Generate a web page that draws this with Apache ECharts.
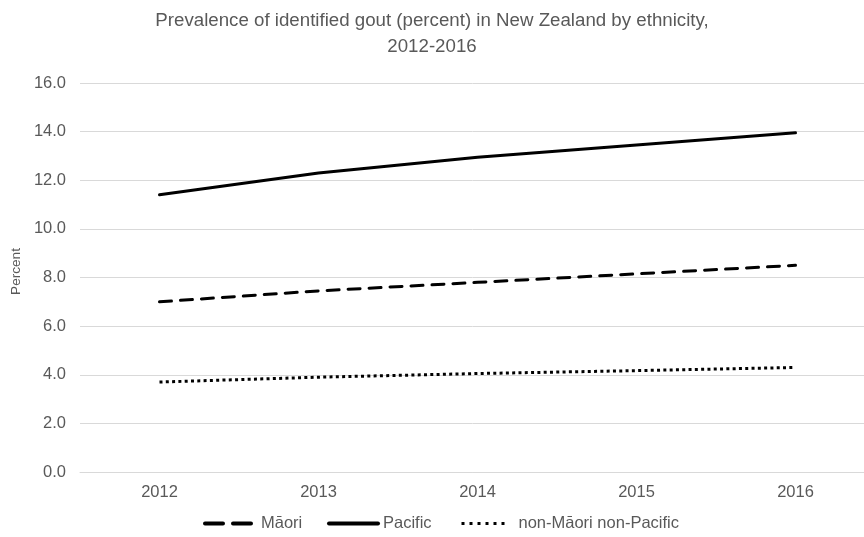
<!DOCTYPE html>
<html>
<head>
<meta charset="UTF-8">
<script src="https://cdn.jsdelivr.net/npm/echarts@6/dist/echarts.min.js"></script>
<style>
html, body { margin: 0; padding: 0; background: #fff; }
#main { width: 864px; height: 537px; }
</style>
</head>
<body>
<div id="main"></div>
<script type="text/javascript">
var years = ['2012', '2013', '2014', '2015', '2016'];
var maori = [7.0, 7.45, 7.8, 8.15, 8.5];
var pacific = [11.4, 12.3, 12.95, 13.45, 13.95];
var nonMaoriNonPacific = [3.7, 3.9, 4.05, 4.17, 4.3];

var txt = '#595959';
var font = '"Liberation Sans", Arial, sans-serif';

var myChart = echarts.init(document.getElementById('main'));

// one legend per entry, so each icon/label spacing can follow the reference
function legendFor(name, left, w, lineStyle, padLeft) {
    return {
        top: 515,
        left: left,
        padding: 0,
        itemWidth: w,
        itemHeight: 10,
        itemStyle: { opacity: 0 },
        textStyle: { color: txt, fontSize: 16.5, fontFamily: font, padding: [0, 0, 0, padLeft] },
        data: [{ name: name, lineStyle: lineStyle }]
    };
}

var option = {
    animation: false,
    title: {
        text: 'Prevalence of identified gout (percent) in New Zealand by ethnicity,\n2012-2016',
        left: 'center',
        top: 3,
        textStyle: { color: txt, fontSize: 18.7, fontWeight: 'normal', fontFamily: font, lineHeight: 26 }
    },
    legend: [
        legendFor('Māori', 203, 46, { width: 4, type: [18, 10] }, 5),
        legendFor('Pacific', 327, 49, { width: 4, type: 'solid' }, 0),
        legendFor('non-Māori non-Pacific', 460, 43, { width: 3, type: [3, 5] }, 9)
    ],
    grid: {
        left: 80,
        width: 795,
        top: 83,
        bottom: 65,
        containLabel: false,
        outerBoundsMode: 'none'
    },
    xAxis: {
        type: 'category',
        data: years,
        boundaryGap: true,
        axisLine: { lineStyle: { color: '#d9d9d9' } },
        axisTick: { show: false },
        axisLabel: { color: txt, fontSize: 16.5, fontFamily: font, margin: 12 }
    },
    yAxis: {
        type: 'value',
        min: 0,
        max: 16,
        interval: 2,
        name: 'Percent',
        nameLocation: 'middle',
        nameRotate: 90,
        nameGap: 54,
        nameTextStyle: { color: txt, fontSize: 13.6, fontFamily: font, padding: [0, 0, 0, 12] },
        axisLine: { show: false },
        axisTick: { show: false },
        splitLine: { lineStyle: { color: '#d9d9d9' } },
        axisLabel: {
            color: txt, fontSize: 16.5, fontFamily: font, margin: 14,
            formatter: function (v) { return v.toFixed(1); }
        }
    },
    series: [
        {
            name: 'Māori',
            type: 'line',
            symbol: 'none',
            data: maori,
            lineStyle: { color: '#000', width: 3, type: [12, 9], cap: 'round' },
            itemStyle: { color: '#000' }
        },
        {
            name: 'Pacific',
            type: 'line',
            symbol: 'none',
            data: pacific,
            lineStyle: { color: '#000', width: 3, type: 'solid', cap: 'round' },
            itemStyle: { color: '#000' }
        },
        {
            name: 'non-Māori non-Pacific',
            type: 'line',
            symbol: 'none',
            data: nonMaoriNonPacific,
            lineStyle: { color: '#000', width: 3, type: [3, 3.3] },
            itemStyle: { color: '#000' }
        }
    ]
};

myChart.setOption(option);
</script>
</body>
</html>
